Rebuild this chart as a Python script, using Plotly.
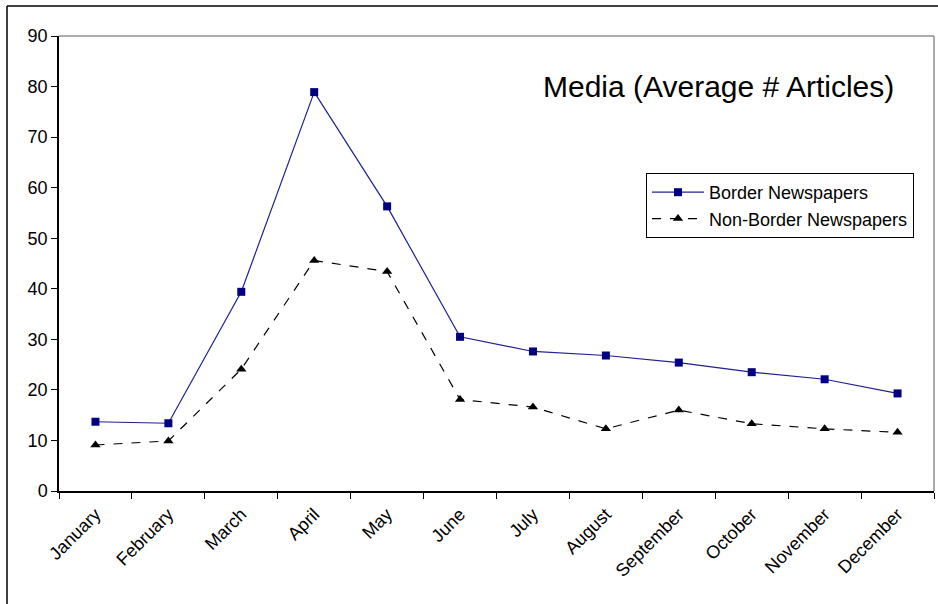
import plotly.graph_objects as go

months = ["January", "February", "March", "April", "May", "June", "July",
          "August", "September", "October", "November", "December"]
border = [13.7, 13.4, 39.4, 78.9, 56.3, 30.5, 27.6, 26.8, 25.4, 23.5, 22.1, 19.3]
non_border = [9.1, 9.9, 24.1, 45.6, 43.4, 18.1, 16.6, 12.3, 16.0, 13.3, 12.3, 11.6]
y_ticks = list(range(0, 100, 10))

L, R, T, B = 59, 4, 36, 113
W, H = 938, 604
pw, ph = W - L - R, H - T - B

def px(x):
    return (x - L) / pw

def py(y):
    return (H - B - y) / ph

fig = go.Figure()
fig.add_trace(go.Scatter(
    x=months, y=border, name="Border Newspapers", mode="lines+markers",
    line=dict(color="#202090", width=1.2),
    marker=dict(symbol="square", size=8, color="#000080"),
))
fig.add_trace(go.Scatter(
    x=months, y=non_border, name="Non-Border Newspapers", mode="lines+markers",
    line=dict(color="#000000", width=1.2, dash="dash"),
    marker=dict(symbol="triangle-up", size=9, color="#000000"),
))

fig.update_layout(
    width=W, height=H,
    margin=dict(l=L, r=R, t=T, b=B, pad=0),
    paper_bgcolor="white", plot_bgcolor="white",
    font=dict(family="Arial, Liberation Sans, sans-serif", color="black", size=14),
    showlegend=True,
    legend=dict(
        x=px(646), y=py(173), xanchor="left", yanchor="top",
        bordercolor="black", borderwidth=1, bgcolor="white",
        font=dict(size=18, color="black"), itemwidth=52,
        tracegroupgap=0,
    ),
    xaxis=dict(
        type="category", tickangle=-45, tickson="boundaries",
        ticks="outside", ticklen=6, tickcolor="black",
        showline=True, linecolor="black", linewidth=1.5,
        showgrid=False, mirror=False, zeroline=False,
        range=[-0.5, 11.5], tickfont=dict(size=18), ticklabelstandoff=4,
    ),
    yaxis=dict(
        range=[0, 90], tickvals=y_ticks, ticks="outside", ticklen=6,
        tickcolor="black", showline=True, linecolor="black", linewidth=1.5,
        showgrid=False, zeroline=False, tickfont=dict(size=18),
    ),
    annotations=[dict(
        text="Media (Average # Articles)", xref="paper", yref="paper",
        x=px(718), y=py(86), xanchor="center", yanchor="middle",
        showarrow=False, font=dict(size=30, color="black"),
    )],
    shapes=[
        dict(type="line", xref="paper", yref="paper", x0=0, x1=1, y0=1, y1=1,
             line=dict(color="#909090", width=1.5)),
        dict(type="line", xref="paper", yref="paper", x0=1, x1=1, y0=0, y1=1,
             line=dict(color="#909090", width=1.5)),
        dict(type="line", xref="paper", yref="paper", x0=px(7), x1=px(945), y0=py(6), y1=py(6),
             line=dict(color="black", width=1.5)),
        dict(type="line", xref="paper", yref="paper", x0=px(7), x1=px(7), y0=py(6), y1=py(610),
             line=dict(color="black", width=1.5)),
    ],
)

fig.write_html("out.html")
